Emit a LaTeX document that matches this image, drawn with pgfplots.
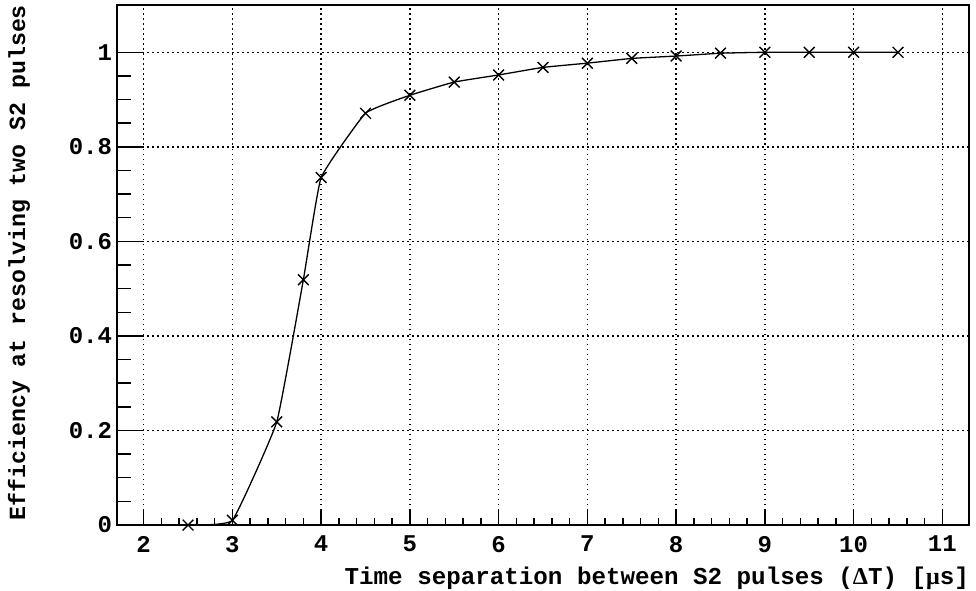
\documentclass[border=0pt]{standalone}
\usepackage{fontspec}
\setmainfont{Liberation Mono}
\newfontfamily\greekfont{Liberation Serif}
\usepackage{pgfplots}
\pgfplotsset{compat=1.18}

% resolving efficiency vs. separation of the two S2 pulses
\pgfplotstableread{
dt    eff
2.5   0.000
3.0   0.010
3.5   0.218
3.8   0.519
4.0   0.735
4.5   0.871
5.0   0.909
5.5   0.937
6.0   0.952
6.5   0.968
7.0   0.977
7.5   0.987
8.0   0.992
8.5   0.998
9.0   1.000
9.5   1.000
10.0  1.000
10.5  1.000
}\efftable

\begin{document}
\begin{tikzpicture}
\begin{axis}[
  name=ax,
  width=426bp, height=260bp,
  scale only axis,
  xmin=1.7, xmax=11.3,
  ymin=0, ymax=1.1,
  xtick={2,3,...,11},
  ytick={0,0.2,0.4,0.6,0.8,1},
  minor x tick num=4,
  minor y tick num=3,
  tick pos=left,
  tick align=inside,
  xtick style={/pgfplots/major tick length=7.5bp,/pgfplots/minor tick length=3.75bp,line width=0.7bp,black},
  ytick style={/pgfplots/major tick length=13.5bp,/pgfplots/minor tick length=7bp,line width=0.7bp,black},
  axis line style={line width=0.8bp},
  grid=major,
  major grid style={black, line width=0.75bp, dash pattern=on 0.75bp off 1.75bp},
  font=\fontsize{12.1bp}{14bp}\selectfont\bfseries,
  /pgf/number format/assume math mode=true,
  ticklabel style={font=\fontsize{12bp}{14bp}\selectfont\bfseries},
  xticklabel style={yshift=-2bp},
  yticklabel style={xshift=1bp},
  xlabel={Time separation between S2 pulses ({\greekfont Δ}T) [{\greekfont μ}s]},
  ylabel={\fontsize{11.6bp}{13bp}\selectfont Efficiency at resolving two S2 pulses},
  every axis x label/.style={at={(rel axis cs:1,0)}, anchor=north east, yshift=-21bp, inner sep=0pt, outer sep=0pt},
  every axis y label/.style={at={(rel axis cs:0,1)}, rotate=90, anchor=north east, yshift=54.5bp, inner sep=0pt, outer sep=0pt},
]
\addplot[black, line width=0.65bp, smooth, tension=0.2,
  mark=x, mark size=3.8bp, mark options={line width=0.7bp}]
  table[x=dt, y=eff] {\efftable};
\end{axis}
\pgfresetboundingbox
\path[use as bounding box] ([shift={(-58.5bp,-32.5bp)}]ax.south west) rectangle ([shift={(3.5bp,2.5bp)}]ax.north east);
\end{tikzpicture}
\end{document}
